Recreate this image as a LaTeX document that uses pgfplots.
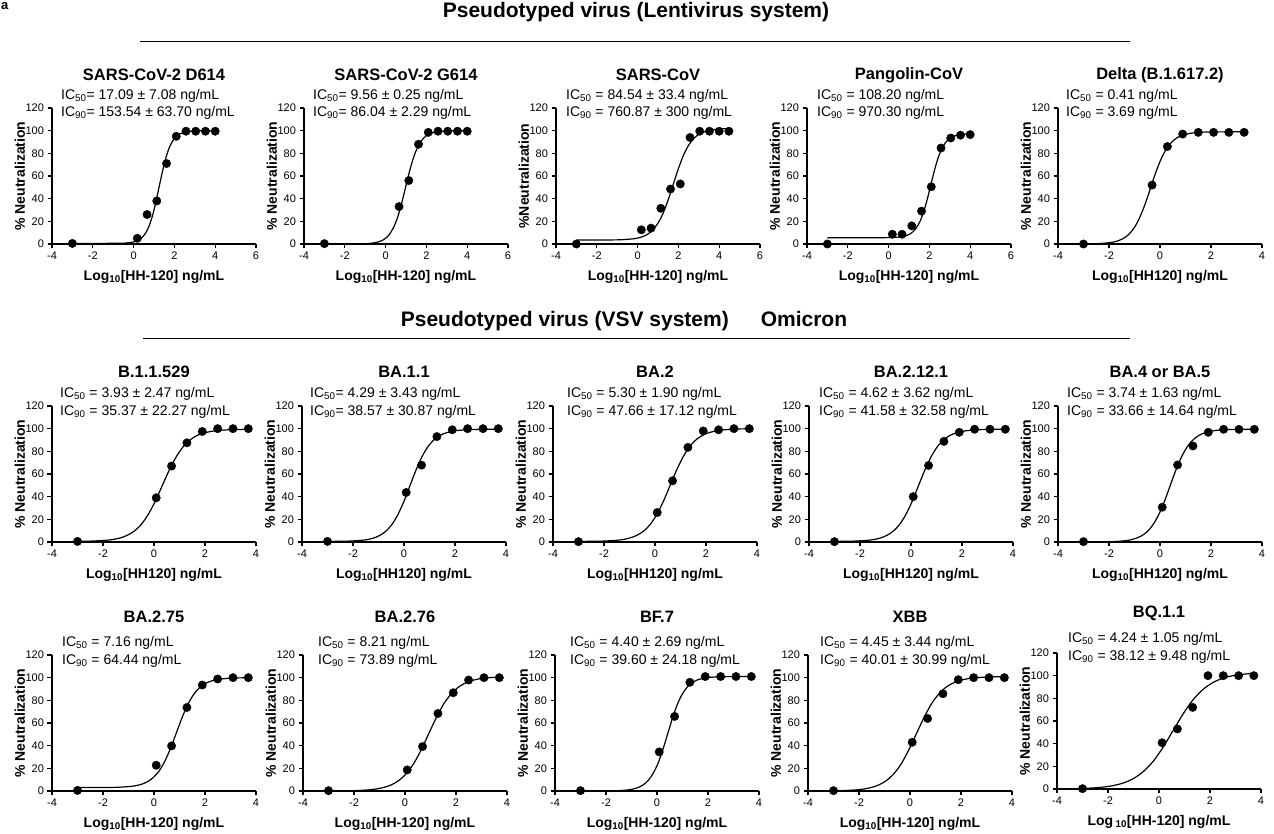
\documentclass[border=0pt]{standalone}
\usepackage{fontspec}
\setmainfont{Liberation Sans}
\usepackage{pgfplots}
\pgfplotsset{compat=1.18}

\pgfplotsset{
  panel/.style={
    scale only axis, width=204pt, height=136pt,
    ymin=0, ymax=120, ytick={0,20,...,120},
    axis lines*=left,
    axis line style={-, line width=1.1pt},
    tick style={black, line width=1.1pt},
    tick align=outside, major tick length=4.5pt,
    tick label style={font=\fontsize{11}{11}\selectfont},
    /pgf/number format/assume math mode=true,
    label style={font=\bfseries\fontsize{14}{14}\selectfont},
    xlabel style={at={(axis description cs:0.5,-0.243)}, anchor=center},
    ylabel style={at={(axis description cs:-0.157,0.5)}, anchor=center},
    ylabel={\% Neutralization},
    clip=false,
  },
  wide/.style={xmin=-4, xmax=6, xtick={-4,-2,...,6}},
  narrow/.style={xmin=-4, xmax=4, xtick={-4,-2,...,4}},
  pts/.style={only marks, mark=*, mark size=4.2pt, black},
  fit/.style={no marks, smooth, black, line width=1.2pt},
}
\newcommand{\ttl}[2]{\node[font=\bfseries\fontsize{16.5}{16.5}\selectfont] at (#1) {#2};}
\newcommand{\ic}[2]{\node[anchor=west, inner sep=0pt, font=\fontsize{14}{14}\selectfont] at (#1) {#2};}

\begin{document}
\begin{tikzpicture}
\useasboundingbox (0,0) rectangle (1274pt,834pt);

\node[anchor=north west, inner sep=0pt, font=\bfseries\fontsize{13}{13}\selectfont] at (1pt,832pt) {a};

% headers
\node[font=\bfseries\fontsize{21}{21}\selectfont] at (636pt,822pt) {Pseudotyped virus (Lentivirus system)};
\draw[line width=1pt] (140pt,792pt) -- (1130pt,792pt);
\node[font=\bfseries\fontsize{21}{21}\selectfont] at (624pt,513pt) {Pseudotyped virus (VSV system)\hspace{32pt}Omicron};
\draw[line width=1pt] (143pt,495pt) -- (1130pt,495pt);

% ---------- row 1 ----------
\begin{axis}[panel, wide, at={(52pt,590pt)}, anchor=south west, xlabel={Log\textsubscript{10}[HH-120] ng/mL}]
\addplot[fit] coordinates {(-3,0.5) (-0.75,0.6) (-0.417,0.8) (-0.083,1.5) (0.083,2.2) (0.25,3.6) (0.417,5.8) (0.583,9.5) (0.75,15.5) (0.917,24.4) (1.083,36.3) (1.25,50.3) (1.417,64.2) (1.583,76.1) (1.75,85) (1.917,91) (2.083,94.7) (2.25,96.9) (2.417,98.2) (2.583,99) (2.917,99.7) (3.25,99.9) (4,100)};
\addplot[pts] coordinates {(-3,0.5) (0.183,5) (0.66,26) (1.137,38) (1.614,71) (2.092,95) (2.569,99.5) (3.046,99.5) (3.523,99.5) (4,99.5)};
\end{axis}

\begin{axis}[panel, wide, at={(304pt,590pt)}, anchor=south west, xlabel={Log\textsubscript{10}[HH-120] ng/mL}]
\addplot[fit] coordinates {(-1.4,0.1) (-0.943,0.3) (-0.558,1) (-0.366,1.75) (-0.174,3.1) (0.019,5.3) (0.211,9.1) (0.403,15.1) (0.596,24) (0.788,36) (0.98,50) (1.172,64) (1.365,76) (1.557,84.9) (1.749,90.9) (1.941,94.7) (2.134,96.9) (2.326,98.2) (2.518,99) (2.903,99.7) (3.287,99.9) (4,100)};
\addplot[pts] coordinates {(-3,0.3) (0.66,33) (1.137,56) (1.614,88) (2.092,98.5) (2.569,99.5) (3.046,99.5) (3.523,99.5) (4,99.5)};
\end{axis}

\begin{axis}[panel, wide, at={(556pt,590pt)}, anchor=south west, xlabel={Log\textsubscript{10}[HH-120] ng/mL}, ylabel={\%Neutralization}]
\addplot[fit] coordinates {(-3,3.5) (-1.25,3.6) (-0.75,3.8) (-0.25,4.5) (0,5.2) (0.25,6.5) (0.5,8.7) (0.75,12.5) (1,18.4) (1.25,27.1) (1.5,39) (1.75,52.8) (2,66.5) (2.25,78.4) (2.5,87.1) (2.75,93) (3,96.8) (3.25,98.9) (3.5,100.2) (3.75,101) (4.25,101.7) (4.477,101.8)};
\addplot[pts] coordinates {(-3,0) (0.183,12.5) (0.66,14) (1.137,31.5) (1.614,48.5) (2.092,53) (2.569,94) (3.046,99.5) (3.523,99.5) (4,99.5) (4.477,99.5)};
\end{axis}

\begin{axis}[panel, wide, at={(807pt,590pt)}, anchor=south west, xlabel={Log\textsubscript{10}[HH-120] ng/mL}]
\addplot[fit] coordinates {(-3,5.5) (-0.08,5.6) (0.275,5.8) (0.632,6.4) (0.81,7.1) (0.989,8.3) (1.167,10.4) (1.346,13.9) (1.525,19.4) (1.703,27.6) (1.882,38.6) (2.06,51.5) (2.239,64.4) (2.417,75.4) (2.596,83.6) (2.774,89.1) (2.953,92.6) (3.131,94.6) (3.31,95.8) (3.488,96.6) (3.846,97.2) (4,97.3)};
\addplot[pts] coordinates {(-3,0) (0.183,8.6) (0.66,8.6) (1.137,16) (1.614,29) (2.092,50.5) (2.569,84.7) (3.046,93.5) (3.523,96) (4,96.5)};
\end{axis}

\begin{axis}[panel, narrow, at={(1058pt,590pt)}, anchor=south west, xlabel={Log\textsubscript{10}[HH120] ng/mL}]
\addplot[fit] coordinates {(-2.87,0.1) (-2.45,0.3) (-2.04,1) (-1.83,1.7) (-1.62,3) (-1.41,5.3) (-1.2,9) (-0.995,14.9) (-0.787,23.8) (-0.578,35.6) (-0.37,49.5) (-0.162,63.4) (0.047,75.2) (0.255,84.1) (0.463,90) (0.672,93.8) (0.88,95.9) (1.088,97.2) (1.297,98) (1.713,98.7) (2.13,98.9) (3.3,99)};
\addplot[pts] coordinates {(-3,0) (-0.31,52) (0.29,86) (0.89,97) (1.5,98.5) (2.1,98.5) (2.7,98.5) (3.3,98.5)};
\end{axis}

% ---------- row 2 ----------
\begin{axis}[panel, narrow, at={(52pt,292pt)}, anchor=south west, xlabel={Log\textsubscript{10}[HH120] ng/mL}]
\addplot[fit] coordinates {(-3,0.6) (-2.448,0.8) (-1.892,1.5) (-1.614,2.2) (-1.337,3.5) (-1.059,5.8) (-0.781,9.5) (-0.503,15.4) (-0.226,24.3) (0.052,36.1) (0.33,50) (0.608,63.9) (0.886,75.7) (1.163,84.6) (1.441,90.5) (1.719,94.3) (1.997,96.4) (2.274,97.7) (2.552,98.5) (3.108,99.2) (3.7,99.4)};
\addplot[pts] coordinates {(-3,0.5) (0.087,39) (0.689,67) (1.291,87.5) (1.893,97.5) (2.495,100) (3.097,100) (3.699,100)};
\end{axis}

\begin{axis}[panel, narrow, at={(302pt,292pt)}, anchor=south west, xlabel={Log\textsubscript{10}[HH120] ng/mL}]
\addplot[fit] coordinates {(-3,0.5) (-2.616,0.6) (-2.14,0.8) (-1.664,1.5) (-1.426,2.2) (-1.188,3.5) (-0.95,5.8) (-0.712,9.5) (-0.474,15.4) (-0.236,24.3) (0.002,36.1) (0.24,50) (0.478,63.9) (0.716,75.7) (0.954,84.6) (1.192,90.5) (1.43,94.3) (1.668,96.4) (1.906,97.7) (2.144,98.5) (2.62,99.2) (3.096,99.4) (3.7,99.5)};
\addplot[pts] coordinates {(-3,0.5) (0.087,43.7) (0.689,67.8) (1.291,93) (1.893,99) (2.495,100) (3.097,100) (3.699,100)};
\end{axis}

\begin{axis}[panel, narrow, at={(553pt,292pt)}, anchor=south west, xlabel={Log\textsubscript{10}[HH120] ng/mL}]
\addplot[fit] coordinates {(-3,0.5) (-2.558,0.6) (-2.032,0.8) (-1.505,1.5) (-1.242,2.2) (-0.979,3.6) (-0.716,5.8) (-0.453,9.5) (-0.189,15.5) (0.074,24.4) (0.337,36.3) (0.6,50.3) (0.863,64.2) (1.126,76.1) (1.39,85) (1.653,91) (1.916,94.7) (2.179,96.9) (2.442,98.2) (2.705,99) (3.232,99.7) (3.7,99.9)};
\addplot[pts] coordinates {(-3,0.3) (0.087,26) (0.689,54) (1.291,83.5) (1.893,98) (2.495,99) (3.097,100) (3.699,100)};
\end{axis}

\begin{axis}[panel, narrow, at={(809pt,292pt)}, anchor=south west, xlabel={Log\textsubscript{10}[HH120] ng/mL}]
\addplot[fit] coordinates {(-3,0.5) (-2.7,0.6) (-2.2,0.8) (-1.7,1.5) (-1.45,2.2) (-1.2,3.5) (-0.95,5.8) (-0.7,9.5) (-0.45,15.4) (-0.2,24.3) (0.05,36.1) (0.3,50) (0.55,63.9) (0.8,75.7) (1.05,84.6) (1.3,90.5) (1.55,94.3) (1.8,96.4) (2.05,97.7) (2.3,98.5) (2.8,99.2) (3.3,99.4) (3.7,99.5)};
\addplot[pts] coordinates {(-3,0.3) (0.087,40) (0.689,67.5) (1.291,88.8) (1.893,96.8) (2.495,99.5) (3.097,99.5) (3.699,99.5)};
\end{axis}

\begin{axis}[panel, narrow, at={(1058pt,292pt)}, anchor=south west, xlabel={Log\textsubscript{10}[HH120] ng/mL}]
\addplot[fit] coordinates {(-3,0) (-2.327,0.1) (-1.873,0.3) (-1.418,1) (-1.191,1.7) (-0.964,3.1) (-0.736,5.3) (-0.509,9) (-0.282,15) (-0.055,23.9) (0.173,35.8) (0.4,49.8) (0.627,63.7) (0.855,75.6) (1.082,84.5) (1.309,90.4) (1.536,94.2) (1.764,96.4) (1.991,97.7) (2.218,98.5) (2.673,99.2) (3.127,99.4) (3.7,99.5)};
\addplot[pts] coordinates {(-3,0.3) (0.087,30.7) (0.689,68) (1.291,84.7) (1.893,96.8) (2.495,99.4) (3.097,99.4) (3.699,99.4)};
\end{axis}

% ---------- row 3 ----------
\begin{axis}[panel, narrow, at={(52pt,43pt)}, anchor=south west, xlabel={Log\textsubscript{10}[HH-120] ng/mL}]
\addplot[fit] coordinates {(-3,3) (-1.847,3.1) (-1.393,3.3) (-0.938,4) (-0.711,4.7) (-0.484,6) (-0.256,8.2) (-0.029,11.8) (0.198,17.6) (0.425,26.3) (0.653,37.9) (0.88,51.5) (1.107,65.1) (1.335,76.7) (1.562,85.4) (1.789,91.2) (2.016,94.9) (2.244,97) (2.471,98.3) (2.698,99) (3.153,99.7) (3.7,99.9)};
\addplot[pts] coordinates {(-3,0.5) (0.087,22.7) (0.689,39.8) (1.291,73.7) (1.893,93.5) (2.495,98.8) (3.097,100) (3.699,100)};
\end{axis}

\begin{axis}[panel, narrow, at={(303pt,43pt)}, anchor=south west, xlabel={Log\textsubscript{10}[HH-120] ng/mL}]
\addplot[fit] coordinates {(-3,0) (-2.598,0.1) (-2.01,0.3) (-1.422,1) (-1.128,1.8) (-0.834,3.1) (-0.54,5.4) (-0.246,9.2) (0.048,15.3) (0.342,24.2) (0.636,36.4) (0.93,50.5) (1.224,64.6) (1.518,76.8) (1.812,85.7) (2.106,91.8) (2.4,95.6) (2.694,97.9) (2.988,99.2) (3.282,100) (3.72,100.5)};
\addplot[pts] coordinates {(-3,0.3) (0.087,18.6) (0.689,39.2) (1.291,68.4) (1.893,86.7) (2.495,97.9) (3.097,100) (3.699,100)};
\end{axis}

\begin{axis}[panel, narrow, at={(555pt,43pt)}, anchor=south west, xlabel={Log\textsubscript{10}[HH-120] ng/mL}]
\addplot[fit] coordinates {(-3,0) (-1.887,0.1) (-1.503,0.3) (-1.118,1) (-0.926,1.8) (-0.734,3.1) (-0.541,5.4) (-0.349,9.2) (-0.157,15.3) (0.036,24.2) (0.228,36.4) (0.42,50.5) (0.612,64.6) (0.805,76.8) (0.997,85.7) (1.189,91.8) (1.381,95.6) (1.574,97.9) (1.766,99.2) (1.958,100) (2.343,100.7) (2.727,100.9) (3.7,101)};
\addplot[pts] coordinates {(-3,0.3) (0.087,34.5) (0.689,65.8) (1.291,95.9) (1.893,101) (2.495,101) (3.097,101) (3.699,101)};
\end{axis}

\begin{axis}[panel, narrow, at={(808pt,43pt)}, anchor=south west, xlabel={Log\textsubscript{10}[HH-120] ng/mL}]
\addplot[fit] coordinates {(-3,0.15) (-2.69,0.3) (-2.102,1) (-1.808,1.8) (-1.514,3.1) (-1.22,5.4) (-0.926,9.2) (-0.632,15.3) (-0.338,24.2) (-0.044,36.4) (0.25,50.5) (0.544,64.6) (0.838,76.8) (1.132,85.7) (1.426,91.8) (1.72,95.6) (2.014,97.9) (2.308,99.2) (2.602,100) (3.19,100.7) (3.7,100.8)};
\addplot[pts] coordinates {(-3,0.3) (0.087,43) (0.689,64) (1.291,85.8) (1.893,98.2) (2.495,100) (3.097,100) (3.699,100)};
\end{axis}

\begin{axis}[panel, narrow, at={(1057pt,45pt)}, anchor=south west, xlabel={Log\,\textsubscript{10}[HH-120] ng/mL}]
\addplot[fit] coordinates {(-3,0.5) (-2.526,1) (-2.142,1.8) (-1.757,3.2) (-1.373,5.5) (-0.988,9.4) (-0.604,15.6) (-0.219,24.7) (0.166,37.1) (0.55,51.5) (0.935,65.9) (1.319,78.3) (1.704,87.4) (2.088,93.6) (2.473,97.5) (2.857,99.8) (3.242,101.1) (3.626,102) (3.7,102)};
\addplot[pts] coordinates {(-3,0.3) (0.12,40.8) (0.72,53) (1.32,72) (1.92,100) (2.52,100) (3.12,100) (3.72,100)};
\end{axis}

% ---------- titles ----------
\ttl{154pt,759pt}{SARS-CoV-2 D614}
\ttl{406pt,759pt}{SARS-CoV-2 G614}
\ttl{658pt,759pt}{SARS-CoV}
\ttl{909pt,759pt}{Pangolin-CoV}
\ttl{1160pt,759pt}{Delta (B.1.617.2)}
\ttl{154pt,462pt}{B.1.1.529}
\ttl{404pt,462pt}{BA.1.1}
\ttl{655pt,462pt}{BA.2}
\ttl{911pt,462pt}{BA.2.12.1}
\ttl{1160pt,462pt}{BA.4 or BA.5}
\ttl{154pt,217pt}{BA.2.75}
\ttl{405pt,217pt}{BA.2.76}
\ttl{657pt,217pt}{BF.7}
\ttl{910pt,217pt}{XBB}
\ttl{1159pt,221pt}{BQ.1.1}

% ---------- IC values ----------
\ic{61pt,738pt}{IC\textsubscript{50}= 17.09 ± 7.08 ng/mL}
\ic{61pt,721pt}{IC\textsubscript{90}= 153.54 ± 63.70 ng/mL}
\ic{313pt,738pt}{IC\textsubscript{50}= 9.56 ± 0.25 ng/mL}
\ic{313pt,721pt}{IC\textsubscript{90}= 86.04 ± 2.29 ng/mL}
\ic{566pt,738pt}{IC\textsubscript{50} = 84.54 ± 33.4 ng/mL}
\ic{566pt,721pt}{IC\textsubscript{90} = 760.87 ± 300 ng/mL}
\ic{817pt,738pt}{IC\textsubscript{50} = 108.20 ng/mL}
\ic{817pt,721pt}{IC\textsubscript{90} = 970.30 ng/mL}
\ic{1066pt,738pt}{IC\textsubscript{50} = 0.41 ng/mL}
\ic{1066pt,721pt}{IC\textsubscript{90} = 3.69 ng/mL}

\ic{60pt,440pt}{IC\textsubscript{50} = 3.93 ± 2.47 ng/mL}
\ic{60pt,422pt}{IC\textsubscript{90} = 35.37 ± 22.27 ng/mL}
\ic{310pt,440pt}{IC\textsubscript{50}= 4.29 ± 3.43 ng/mL}
\ic{310pt,422pt}{IC\textsubscript{90}= 38.57 ± 30.87 ng/mL}
\ic{567pt,440pt}{IC\textsubscript{50} = 5.30 ± 1.90 ng/mL}
\ic{567pt,422pt}{IC\textsubscript{90} = 47.66 ± 17.12 ng/mL}
\ic{819pt,440pt}{IC\textsubscript{50} = 4.62 ± 3.62 ng/mL}
\ic{819pt,422pt}{IC\textsubscript{90} = 41.58 ± 32.58 ng/mL}
\ic{1067pt,440pt}{IC\textsubscript{50} = 3.74 ± 1.63 ng/mL}
\ic{1067pt,422pt}{IC\textsubscript{90} = 33.66 ± 14.64 ng/mL}

\ic{62pt,191pt}{IC\textsubscript{50} = 7.16 ng/mL}
\ic{62pt,173pt}{IC\textsubscript{90} = 64.44 ng/mL}
\ic{318pt,191pt}{IC\textsubscript{50} = 8.21 ng/mL}
\ic{318pt,173pt}{IC\textsubscript{90} = 73.89 ng/mL}
\ic{570pt,191pt}{IC\textsubscript{50} = 4.40 ± 2.69 ng/mL}
\ic{570pt,173pt}{IC\textsubscript{90} = 39.60 ± 24.18 ng/mL}
\ic{820pt,191pt}{IC\textsubscript{50} = 4.45 ± 3.44 ng/mL}
\ic{820pt,173pt}{IC\textsubscript{90} = 40.01 ± 30.99 ng/mL}
\ic{1068pt,195pt}{IC\textsubscript{50} = 4.24 ± 1.05 ng/mL}
\ic{1068pt,177pt}{IC\textsubscript{90} = 38.12 ± 9.48 ng/mL}
\end{tikzpicture}
\end{document}
